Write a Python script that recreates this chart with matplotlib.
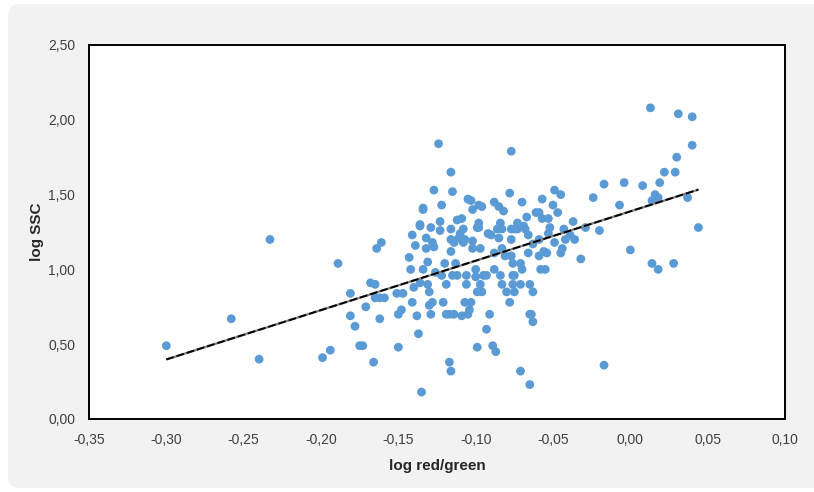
import matplotlib
matplotlib.use("Agg")
import matplotlib.pyplot as plt
import numpy as np
from matplotlib.patches import FancyBboxPatch

# ---- data ----
log_red_green = [
    -0.300, -0.258, -0.240, -0.233, -0.199, -0.194, -0.189, -0.181, -0.181, -0.178,
    -0.175, -0.173, -0.171, -0.168, -0.165, -0.166, -0.164, -0.161, -0.165, -0.162,
    -0.159, -0.162, -0.151, -0.147, -0.150, -0.150, -0.148, -0.143, -0.141, -0.142,
    -0.141, -0.140, -0.139, -0.138, -0.137, -0.135, -0.136, -0.136, -0.134, -0.134,
    -0.134, -0.136, -0.132, -0.132, -0.131, -0.131, -0.130, -0.130, -0.128, -0.129,
    -0.129, -0.128, -0.127, -0.127, -0.126, -0.124, -0.123, -0.123, -0.122, -0.122,
    -0.121, -0.120, -0.119, -0.117, -0.119, -0.117, -0.116, -0.116, -0.115, -0.116,
    -0.116, -0.114, -0.116, -0.115, -0.112, -0.114, -0.113, -0.112, -0.111, -0.110,
    -0.109, -0.109, -0.108, -0.108, -0.107, -0.106, -0.106, -0.105, -0.105, -0.107,
    -0.103, -0.104, -0.103, -0.102, -0.102, -0.102, -0.100, -0.100, -0.099, -0.098,
    -0.099, -0.099, -0.098, -0.098, -0.097, -0.097, -0.096, -0.096, -0.095, -0.093,
    -0.093, -0.092, -0.091, -0.090, -0.089, -0.088, -0.088, -0.088, -0.087, -0.086,
    -0.085, -0.085, -0.084, -0.084, -0.083, -0.083, -0.083, -0.082, -0.081, -0.080,
    -0.078, -0.077, -0.077, -0.075, -0.073, -0.078, -0.077, -0.077, -0.076, -0.076,
    -0.075, -0.076, -0.075, -0.073, -0.071, -0.071, -0.071, -0.070, -0.070, -0.069,
    -0.068, -0.067, -0.066, -0.066, -0.065, -0.065, -0.065, -0.064, -0.063, -0.063,
    -0.063, -0.061, -0.059, -0.059, -0.058, -0.055, -0.059, -0.057, -0.054, -0.056,
    -0.057, -0.053, -0.053, -0.052, -0.050, -0.049, -0.049, -0.047, -0.045, -0.045,
    -0.044, -0.043, -0.042, -0.039, -0.037, -0.036, -0.032, -0.029, -0.024, -0.020,
    -0.017, -0.017, -0.007, -0.004, 0.000, 0.008, 0.013, 0.014, 0.014, 0.016,
    0.016, 0.018, 0.018, 0.019, 0.022, 0.029, 0.028, 0.030, 0.031, 0.037,
    0.040, 0.040, 0.044,
]
log_ssc = [
    0.49, 0.67, 0.40, 1.20, 0.41, 0.46, 1.04, 0.84, 0.69, 0.62,
    0.49, 0.49, 0.75, 0.91, 0.90, 0.38, 1.14, 1.18, 0.81, 0.81,
    0.81, 0.67, 0.84, 0.84, 0.48, 0.70, 0.73, 1.08, 1.23, 1.00,
    0.78, 0.88, 1.16, 0.69, 0.57, 0.18, 1.29, 1.30, 1.41, 1.40,
    1.00, 0.91, 1.14, 1.21, 1.05, 0.90, 0.85, 0.76, 0.78, 0.70,
    1.28, 1.18, 1.15, 1.53, 0.98, 1.84, 1.32, 1.26, 1.43, 0.96,
    0.78, 1.04, 0.70, 0.70, 0.90, 0.38, 0.32, 1.65, 1.52, 1.27,
    1.20, 1.18, 1.12, 0.96, 0.96, 0.70, 1.04, 1.33, 1.21, 1.24,
    1.34, 0.69, 1.27, 1.18, 1.20, 0.96, 0.90, 1.47, 0.70, 0.78,
    0.78, 0.73, 1.46, 1.40, 1.14, 1.19, 1.00, 0.95, 1.28, 1.28,
    0.48, 0.85, 1.43, 1.31, 1.14, 0.90, 1.42, 0.85, 0.96, 0.96,
    0.60, 1.24, 0.70, 1.23, 0.49, 1.45, 1.11, 1.00, 0.45, 1.27,
    1.21, 1.42, 0.96, 1.31, 1.27, 1.14, 0.90, 1.39, 1.09, 0.85,
    1.51, 1.79, 1.27, 1.27, 1.27, 0.78, 1.20, 1.09, 1.04, 0.96,
    0.96, 0.90, 0.85, 1.31, 0.32, 1.04, 0.90, 1.45, 1.00, 1.29,
    1.27, 1.35, 1.23, 1.11, 0.23, 0.90, 0.70, 0.70, 0.85, 0.65,
    1.17, 1.38, 1.38, 1.20, 1.00, 1.00, 1.09, 1.47, 1.11, 1.12,
    1.34, 1.34, 1.24, 1.28, 1.43, 1.53, 1.18, 1.38, 1.50, 1.11,
    1.14, 1.27, 1.20, 1.23, 1.32, 1.20, 1.07, 1.28, 1.48, 1.26,
    1.57, 0.36, 1.43, 1.58, 1.13, 1.56, 2.08, 1.04, 1.46, 1.50,
    1.47, 1.00, 1.48, 1.58, 1.65, 1.65, 1.04, 1.75, 2.04, 1.48,
    1.83, 2.02, 1.28,
]
trend_slope = 3.30
trend_intercept = 1.388

x_ticks = [-0.35, -0.30, -0.25, -0.20, -0.15, -0.10, -0.05, 0.00, 0.05, 0.10]
y_ticks = [0.00, 0.50, 1.00, 1.50, 2.00, 2.50]
x_label = "log red/green"
y_label = "log SSC"

# ---- figure ----
W, H, DPI = 814, 492, 100
fig = plt.figure(figsize=(W / DPI, H / DPI), dpi=DPI, facecolor="white")

r = 12
bg = FancyBboxPatch((8 + r, 4 + r), W - 8 - 2 * r + 30, H - 8 - 2 * r,
                    boxstyle=f"round,pad={r}", transform=None,
                    facecolor="#F2F2F2", edgecolor="none", zorder=-10)
fig.patches.append(bg)

plt.rcParams["font.family"] = ["Liberation Sans", "DejaVu Sans"]

ax = fig.add_axes([89 / W, 1 - 419 / H, (785 - 89) / W, (419 - 45) / H])
ax.set_zorder(1)
ax.set_facecolor("white")
ax.set_xlim(-0.35, 0.10)
ax.set_ylim(0, 2.5)

ax.scatter(log_red_green, log_ssc, s=40, color="#5B9BD5", edgecolors="none", zorder=3)

xs = np.array([min(log_red_green), max(log_red_green)])
ys = trend_slope * xs + trend_intercept
ax.plot(xs, ys, color="#7F7F7F", lw=1.6, zorder=4, solid_capstyle="butt")
ax.plot(xs, ys, color="black", lw=1.4, zorder=5, dashes=(4, 1.5))

ax.set_xticks(x_ticks)
ax.set_yticks(y_ticks)
ax.set_xticklabels([f"{v:.2f}".replace(".", ",") for v in x_ticks])
ax.set_yticklabels([f"{v:.2f}".replace(".", ",") for v in y_ticks])
ax.tick_params(axis="both", length=0, labelsize=10, colors="#404040")
ax.tick_params(axis="x", pad=10)
ax.tick_params(axis="y", pad=10)

for s in ax.spines.values():
    s.set_color("black")
    s.set_linewidth(1.4)

ax.set_xlabel(x_label, fontsize=11, fontweight="bold", color="#262626", labelpad=9)
ax.set_ylabel(y_label, fontsize=11, fontweight="bold", color="#262626", labelpad=3)

fig.savefig("out.png", dpi=DPI, facecolor="white")
